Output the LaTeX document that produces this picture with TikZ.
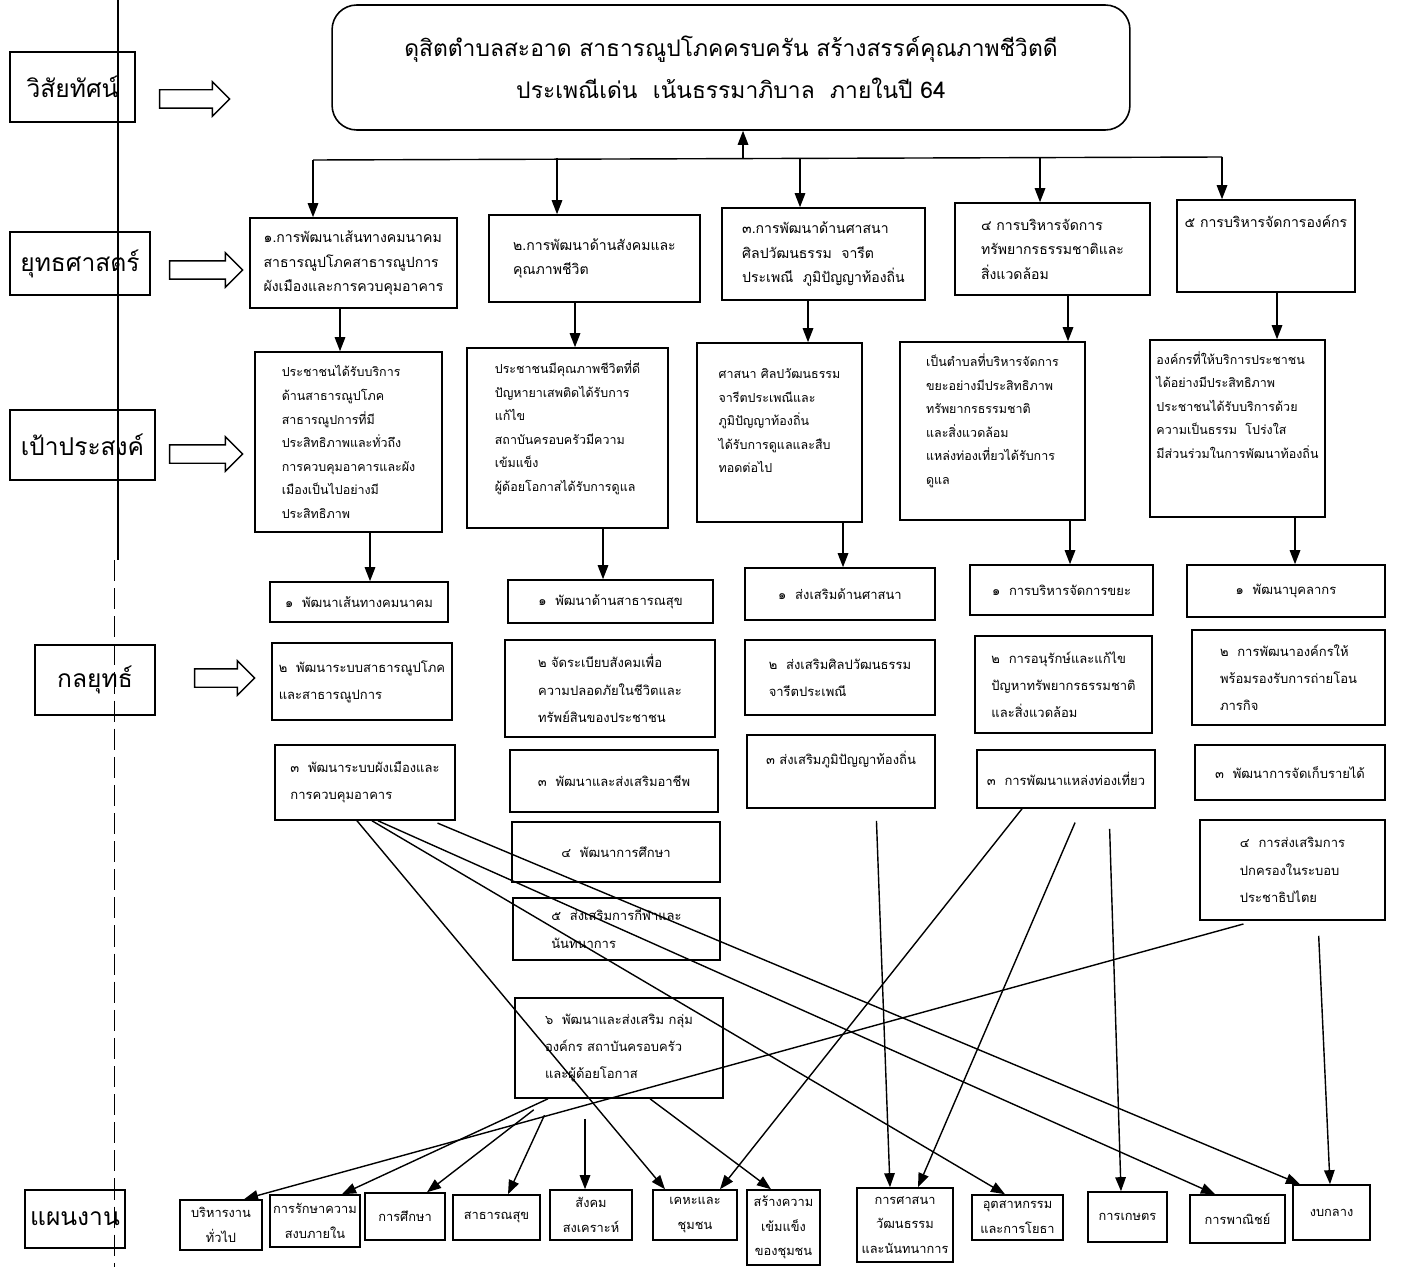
\documentclass[tikz,border=0pt]{standalone}
\usepackage{fontspec}
\setmainfont[Script=Thai]{Loma}
\usetikzlibrary{arrows.meta,shapes.arrows}

\begin{document}
\begin{tikzpicture}[x=0.02cm, y=-0.02cm,
    box/.style={draw, line width=0.9pt, inner sep=0pt},
    head/.style={box, font=\fontsize{14}{16}\selectfont},
    strat/.style={box, align=left, font=\fontsize{8}{14}\selectfont},
    goal/.style={box, align=left, font=\fontsize{7.1}{13.4}\selectfont},
    tact/.style={box, align=left, font=\fontsize{7.4}{15.5}\selectfont},
    plan/.style={box, align=center, font=\fontsize{7.3}{14}\selectfont},
    fat/.style={single arrow, draw, line width=0.8pt, minimum height=1.4cm,
      inner xsep=0pt, inner ysep=0.17cm, single arrow head extend=0.16cm},
    arr/.style={-{Triangle[length=8pt,width=6pt]}, line width=0.8pt}]
    \useasboundingbox (0,0) rectangle (1402,1267);
    % scan edge
    \draw [line width=0.6pt] (118,0) -- (118,560);
    \draw [line width=0.5pt, dash pattern=on 12pt off 4pt] (114,560) -- (114,1267);
    % row labels
    \node [head, minimum width=2.5cm, minimum height=1.4cm] (lvis) at (72.5,87) {วิสัยทัศน์};
    \node [head, minimum width=2.8cm, minimum height=1.26cm] (lstr) at (80,263.5) {ยุทธศาสตร์};
    \node [head, minimum width=2.9cm, minimum height=1.4cm] (lgoal) at (82.5,445) {เป้าประสงค์};
    \node [head, minimum width=2.4cm, minimum height=1.4cm] (ltac) at (95,680) {กลยุทธ์};
    \node [head, minimum width=2.0cm, minimum height=1.16cm] (lplan) at (75,1219) {แผนงาน};
    \node [fat] (avis) at (190,99) {};
    \node [fat, minimum height=1.46cm] (astr) at (201.5,270) {};
    \node [fat, minimum height=1.46cm] (agoal) at (201.5,454) {};
    \node [fat, minimum height=1.2cm] (atac) at (220,678) {};
    % vision
    \node [box, rounded corners=14pt, minimum width=15.96cm, minimum height=2.5cm,
      align=center, font=\fontsize{13}{24}\selectfont] (vision) at (731,67.5)
      {ดุสิตตำบลสะอาด สาธารณูปโภคครบครัน สร้างสรรค์คุณภาพชีวิตดี\\
       ประเพณีเด่น~~เน้นธรรมาภิบาล~~ภายในปี 64};
    % strategies
    \node [strat, minimum width=4.14cm, minimum height=1.8cm] (s1) at (353.5,263)
      {๑.การพัฒนาเส้นทางคมนาคม\\สาธารณูปโภคสาธารณูปการ\\ผังเมืองและการควบคุมอาคาร};
    \node [strat, minimum width=4.22cm, minimum height=1.74cm] (s2) at (594.5,258.5)
      {๒.การพัฒนาด้านสังคมและ\\คุณภาพชีวิต};
    \node [strat, minimum width=4.06cm, minimum height=1.84cm] (s3) at (823.5,254)
      {๓.การพัฒนาด้านศาสนา\\ศิลปวัฒนธรรม~~จารีต\\ประเพณี~~ภูมิปัญญาท้องถิ่น};
    \node [strat, minimum width=3.9cm, minimum height=1.84cm] (s4) at (1052.5,249)
      {๔ การบริหารจัดการ\\ทรัพยากรธรรมชาติและ\\สิ่งแวดล้อม};
    \node [strat, minimum width=3.56cm, minimum height=1.84cm] (s5) at (1266,246)
      {๕ การบริหารจัดการองค์กร\\~\\~};
    % goals
    \node [goal, minimum width=3.74cm, minimum height=3.6cm] (g1) at (348.5,442)
      {ประชาชนได้รับบริการ\\ด้านสาธารณูปโภค\\สาธารณูปการที่มี\\ประสิทธิภาพและทั่วถึง\\การควบคุมอาคารและผัง\\เมืองเป็นไปอย่างมี\\ประสิทธิภาพ};
    \node [goal, minimum width=4.02cm, minimum height=3.6cm] (g2) at (567.5,438)
      {ประชาชนมีคุณภาพชีวิตที่ดี\\ปัญหายาเสพติดได้รับการ\\แก้ไข\\สถาบันครอบครัวมีความ\\เข้มแข็ง\\ผู้ด้อยโอกาสได้รับการดูแล\\~};
    \node [goal, minimum width=3.3cm, minimum height=3.58cm] (g3) at (779.5,432.5)
      {ศาสนา ศิลปวัฒนธรรม\\จารีตประเพณีและ\\ภูมิปัญญาท้องถิ่น\\ได้รับการดูแลและสืบ\\ทอดต่อไป\\~};
    \node [goal, minimum width=3.7cm, minimum height=3.56cm] (g4) at (992.5,431)
      {เป็นตำบลที่บริหารจัดการ\\ขยะอย่างมีประสิทธิภาพ\\ทรัพยากรธรรมชาติ\\และสิ่งแวดล้อม\\แหล่งท่องเที่ยวได้รับการ\\ดูแล\\~};
    \node [goal, minimum width=3.5cm, minimum height=3.54cm] (g5) at (1237.5,428.5)
      {องค์กรที่ให้บริการประชาชน\\ได้อย่างมีประสิทธิภาพ\\ประชาชนได้รับบริการด้วย\\ความเป็นธรรม~~โปร่งใส\\มีส่วนร่วมในการพัฒนาท้องถิ่น\\~\\~};
    % tactics
    \node [tact, minimum width=3.56cm, minimum height=0.8cm] (t11) at (359,602) {๑~~พัฒนาเส้นทางคมนาคม};
    \node [tact, minimum width=3.6cm, minimum height=1.54cm] (t12) at (362,681.5) {๒~~พัฒนาระบบสาธารณูปโภค\\และสาธารณูปการ};
    \node [tact, minimum width=3.6cm, minimum height=1.5cm] (t13) at (365,782.5) {๓~~พัฒนาระบบผังเมืองและ\\การควบคุมอาคาร};
    \node [tact, minimum width=4.1cm, minimum height=0.86cm] (t21) at (610.5,601.5) {๑~~พัฒนาด้านสาธารณสุข};
    \node [tact, minimum width=4.2cm, minimum height=1.94cm] (t22) at (610,688.5) {๒ จัดระเบียบสังคมเพื่อ\\ความปลอดภัยในชีวิตและ\\ทรัพย์สินของประชาชน};
    \node [tact, minimum width=4.16cm, minimum height=1.24cm] (t23) at (614,781) {๓~~พัฒนาและส่งเสริมอาชีพ};
    \node [tact, minimum width=4.16cm, minimum height=1.2cm] (t24) at (616,852) {๔~~พัฒนาการศึกษา};
    \node [tact, minimum width=4.14cm, minimum height=1.24cm] (t25) at (616.5,929) {๕~~ส่งเสริมการกีฬาและ\\นันทนาการ};
    \node [tact, minimum width=4.16cm, minimum height=2.0cm] (t26) at (619,1048) {๖~~พัฒนาและส่งเสริม กลุ่ม\\องค์กร สถาบันครอบครัว\\และผู้ด้อยโอกาส};
    \node [tact, minimum width=3.8cm, minimum height=1.04cm] (t31) at (840,594) {๑~~ส่งเสริมด้านศาสนา};
    \node [tact, minimum width=3.8cm, minimum height=1.5cm] (t32) at (840,677.5) {๒~~ส่งเสริมศิลปวัฒนธรรม\\จารีตประเพณี};
    \node [tact, minimum width=3.76cm, minimum height=1.46cm] (t33) at (841,771.5) {๓ ส่งเสริมภูมิปัญญาท้องถิ่น\\~};
    \node [tact, minimum width=3.66cm, minimum height=1.0cm] (t41) at (1061.5,590) {๑~~การบริหารจัดการขยะ};
    \node [tact, minimum width=3.54cm, minimum height=1.94cm] (t42) at (1063.5,684.5) {๒~~การอนุรักษ์และแก้ไข\\ปัญหาทรัพยากรธรรมชาติ\\และสิ่งแวดล้อม};
    \node [tact, minimum width=3.56cm, minimum height=1.16cm] (t43) at (1066,779) {๓~~การพัฒนาแหล่งท่องเที่ยว};
    \node [tact, minimum width=3.96cm, minimum height=1.04cm] (t51) at (1286,591) {๑~~พัฒนาบุคลากร};
    \node [tact, minimum width=3.86cm, minimum height=1.9cm] (t52) at (1288.5,677.5) {๒~~การพัฒนาองค์กรให้\\พร้อมรองรับการถ่ายโอน\\ภารกิจ};
    \node [tact, minimum width=3.8cm, minimum height=1.1cm] (t53) at (1290,772.5) {๓~~พัฒนาการจัดเก็บรายได้};
    \node [tact, minimum width=3.7cm, minimum height=2.0cm] (t54) at (1292.5,870) {๔~~การส่งเสริมการ\\ปกครองในระบอบ\\ประชาธิปไตย};
    % plans
    \node [plan, minimum width=1.64cm, minimum height=1.0cm] (pl1) at (221,1225) {บริหารงาน\\ทั่วไป};
    \node [plan, minimum width=1.8cm, minimum height=1.04cm] (pl2) at (315,1221) {การรักษาความ\\สงบภายใน};
    \node [plan, minimum width=1.6cm, minimum height=0.94cm] (pl3) at (405,1216.5) {การศึกษา};
    \node [plan, minimum width=1.74cm, minimum height=0.9cm] (pl4) at (496.5,1217.5) {สาธารณสุข};
    \node [plan, minimum width=1.64cm, minimum height=1.0cm] (pl5) at (591,1215) {สังคม\\สงเคราะห์};
    \node [plan, minimum width=1.68cm, minimum height=1.0cm] (pl6) at (695,1215) {เคหะและ\\ชุมชน};
    \node [plan, minimum width=1.46cm, minimum height=1.5cm] (pl7) at (783.5,1227.5) {สร้างความ\\เข้มแข็ง\\ของชุมชน};
    \node [plan, minimum width=1.92cm, minimum height=1.48cm] (pl8) at (905,1225) {การศาสนา\\วัฒนธรรม\\และนันทนาการ};
    \node [plan, minimum width=1.82cm, minimum height=0.9cm] (pl9) at (1017.5,1217.5) {อุตสาหกรรม\\และการโยธา};
    \node [plan, minimum width=1.58cm, minimum height=1.0cm] (pl10) at (1127.5,1217) {การเกษตร};
    \node [plan, minimum width=1.9cm, minimum height=0.96cm] (pl11) at (1237.5,1219) {การพาณิชย์};
    \node [plan, minimum width=1.54cm, minimum height=1.1cm] (pl12) at (1331.5,1212.5) {งบกลาง};
    % vision to strategies
    \coordinate (busL) at (313,160);
    \coordinate (busR) at (1222,157);
    \coordinate (busM) at (743,158);
    \draw [line width=0.8pt] (busL) -- (busR);
    \draw [arr] (busM) -- (busM |- vision.south);
    \draw [arr] (busL) -- (busL |- s1.north);
    \draw [arr] (557,0 |- busM) -- (557,0 |- s2.north);
    \draw [arr] (800,0 |- busM) -- (800,0 |- s3.north);
    \draw [arr] (1040,0 |- busM) -- (1040,0 |- s4.north);
    \draw [arr] (busR) -- (busR |- s5.north);
    % strategies to goals to tactics
    \draw [arr] (340,0 |- s1.south) -- (340,0 |- g1.north);
    \draw [arr] (575,0 |- s2.south) -- (575,0 |- g2.north);
    \draw [arr] (808,0 |- s3.south) -- (808,0 |- g3.north);
    \draw [arr] (1068,0 |- s4.south) -- (1068,0 |- g4.north);
    \draw [arr] (1277,0 |- s5.south) -- (1277,0 |- g5.north);
    \draw [arr] (370,0 |- g1.south) -- (370,0 |- t11.north);
    \draw [arr] (603,0 |- g2.south) -- (603,0 |- t21.north);
    \draw [arr] (843,0 |- g3.south) -- (843,0 |- t31.north);
    \draw [arr] (1070,0 |- g4.south) -- (1070,0 |- t41.north);
    \draw [arr] (1295,0 |- g5.south) -- (1295,0 |- t51.north);
    % tactics to plans
    \draw [arr] (357,0 |- t13.south) -- (665,0 |- pl6.north);
    \draw [arr] (372,0 |- t13.south) -- (1005,0 |- pl9.north);
    \draw [arr] (378,0 |- t13.south) -- (1215,0 |- pl11.north);
    \draw [arr, shorten <=0.12cm] (432,0 |- t13.south) -- (1300,0 |- pl12.north);
    \draw [arr] (548,0 |- t26.south) -- (342,0 |- pl2.north);
    \draw [arr, shorten <=0.36cm] (548,0 |- t26.south) -- (427,0 |- pl3.north);
    \draw [arr, shorten <=0.36cm] (552,0 |- t26.south) -- (508,0 |- pl4.north);
    \draw [arr, shorten <=0.4cm] (585,0 |- t26.south) -- (585,0 |- pl5.north);
    \draw [arr] (650,0 |- t26.south) -- (771,0 |- pl7.north);
    \draw [arr, shorten <=0.24cm] (1255,0 |- t54.south) -- (244,0 |- pl1.north);
    \draw [arr, shorten <=0.3cm] (1318,0 |- t54.south) -- (1330,0 |- pl12.north);
    \draw [arr] (1022,0 |- t43.south) -- (720,0 |- pl6.north);
    \draw [arr, shorten <=0.3cm] (1081,0 |- t43.south) -- (918,0 |- pl8.north);
    \draw [arr, shorten <=0.4cm] (1109,0 |- t43.south) -- (1121,0 |- pl10.north);
    \draw [arr, shorten <=0.24cm] (876,0 |- t33.south) -- (890,0 |- pl8.north);
\end{tikzpicture}
\end{document}
